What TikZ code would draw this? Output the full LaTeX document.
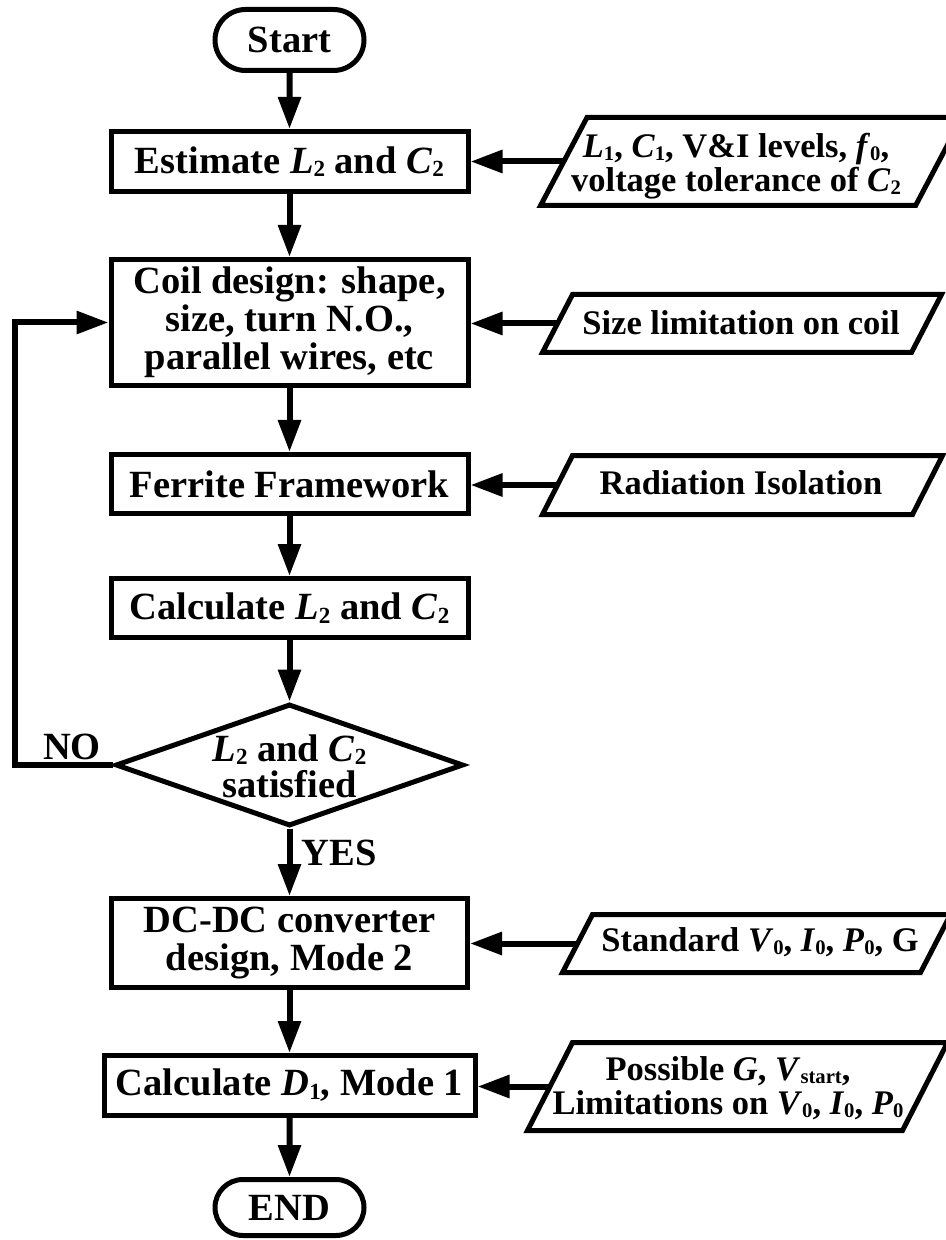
\documentclass[tikz,border=0pt]{standalone}
\usepackage{fontspec}
\setmainfont{Liberation Serif}
\usetikzlibrary{arrows.meta,shapes.geometric,shapes.misc}
\newcommand\sbx[1]{\raisebox{-0.2ex}{\scalebox{0.6}{#1}}}
\newcommand\drawpara[2]{%
  \draw[line width=2.5pt, line join=miter]
    ([xshift=#2]#1.north west) -- ([xshift=#2]#1.north east) --
    ([xshift=-#2]#1.south east) -- ([xshift=-#2]#1.south west) -- cycle;}
\begin{document}
\begin{tikzpicture}[x=0.5pt,y=-0.5pt,
  boxfont/.style={font=\fontsize{19.25pt}{19pt}\selectfont\bfseries},
  decfont/.style={font=\fontsize{19.25pt}{18pt}\selectfont\bfseries},
  parafont/.style={font=\fontsize{17.25pt}{16.75pt}\selectfont\bfseries},
  procbox/.style={draw, line width=2.5pt, rectangle, inner sep=0pt, align=center, boxfont},
  termbox/.style={draw, line width=2.5pt, rounded rectangle, inner sep=0pt, boxfont},
  parashape/.style={rectangle, inner sep=0pt, outer sep=0pt},
  paratext/.style={inner sep=0pt, align=center, parafont},
  conn/.style={line width=3pt, line join=miter, -{Triangle[length=16pt,width=11pt]}},
]
\useasboundingbox (0,0) rectangle (946,1240);
\clip (0,0) rectangle (946,1240);

% main column
\node[termbox, minimum width=74.5pt, minimum height=30.5pt] (start) at (289.5,40) {Start};
\node[procbox, minimum width=178.5pt, minimum height=30pt] (est) at (289.5,161.5) {Estimate \textit{L}\sbx{2} and \textit{C}\sbx{2}};
\node[procbox, minimum width=178.5pt, minimum height=63pt] (coil) at (289.5,322.5) {Coil design: shape,\\ size, turn N.O.,\\ parallel wires, etc};
\node[procbox, minimum width=178.5pt, minimum height=29.5pt] (fer) at (289.5,484) {Ferrite Framework};
\node[procbox, minimum width=178.5pt, minimum height=29.5pt] (cal) at (289.5,608) {Calculate \textit{L}\sbx{2} and \textit{C}\sbx{2}};
\node[diamond, draw, line width=2.5pt, inner sep=0pt, minimum width=174pt, minimum height=61pt] (dec) at (289.5,765) {};
\node[decfont, align=center, inner sep=0pt] (dect) at (289.5,766) {\textit{L}\sbx{2} and \textit{C}\sbx{2}\\ satisfied};
\node[procbox, minimum width=178pt, minimum height=44.5pt] (dc) at (289.5,943) {DC-DC converter\\ design, Mode 2};
\node[procbox, minimum width=185.5pt, minimum height=30pt] (d1) at (289.5,1085.5) {Calculate \textit{D}\sbx{1}, Mode 1};
\node[termbox, minimum width=74.5pt, minimum height=28pt] (end) at (289.5,1207.5) {END};

% labels
\node[boxfont, inner sep=0pt] (no) at (72,747) {NO};
\node[boxfont, inner sep=0pt] (yes) at (339,853) {YES};

% input parallelograms
\node[parashape, minimum width=187.5pt, minimum height=44pt] (p1) at (751.3,161.5) {};
\drawpara{p1}{11.6pt}
\node[paratext] (p1t) at (736,166) {\textit{L}\sbx{1}, \textit{C}\sbx{1}, V\&I levels, \textit{f}\sbx{0},\\ voltage tolerance of \textit{C}\sbx{2}};

\node[parashape, minimum width=184.5pt, minimum height=29pt] (p2) at (742,323.5) {};
\drawpara{p2}{7.5pt}
\node[paratext] (p2t) at (741,323) {Size limitation on coil};

\node[parashape, minimum width=185pt, minimum height=29.5pt] (p3) at (742.5,485) {};
\drawpara{p3}{7.5pt}
\node[paratext] (p3t) at (741,483) {Radiation Isolation};

\node[parashape, minimum width=179pt, minimum height=29pt] (p4) at (756.5,943.5) {};
\drawpara{p4}{7.5pt}
\node[paratext] (p4t) at (760,942) {Standard \textit{V}\sbx{0}, \textit{I}\sbx{0}, \textit{P}\sbx{0}, G};

\node[parashape, minimum width=187.5pt, minimum height=44pt] (p5) at (737.5,1086.5) {};
\drawpara{p5}{11.25pt}
\node[paratext] (p5t) at (728,1088) {Possible \textit{G}, \textit{V}\sbx{start},\\ Limitations on \textit{V}\sbx{0}, \textit{I}\sbx{0}, \textit{P}\sbx{0}};

% vertical flow
\draw[conn] (start) -- (est);
\draw[conn] (est) -- (coil);
\draw[conn] (coil) -- (fer);
\draw[conn] (fer) -- (cal);
\draw[conn] (cal) -- (dec);
\draw[conn] (dec) -- (dc);
\draw[conn] (dc) -- (d1);
\draw[conn] (d1) -- (end);

% feedback
\coordinate (fb) at (15,322.5);
\draw[conn] (dec.west) -| (fb) -- (coil.west);

% inputs
\draw[conn] (p1.west) -- (p1.west -| est.east);
\draw[conn] (p2.west) -- (p2.west -| coil.east);
\draw[conn] (p3.west) -- (p3.west -| fer.east);
\draw[conn] (p4.west) -- (p4.west -| dc.east);
\draw[conn] (p5.west) -- (p5.west -| d1.east);
\end{tikzpicture}
\end{document}
